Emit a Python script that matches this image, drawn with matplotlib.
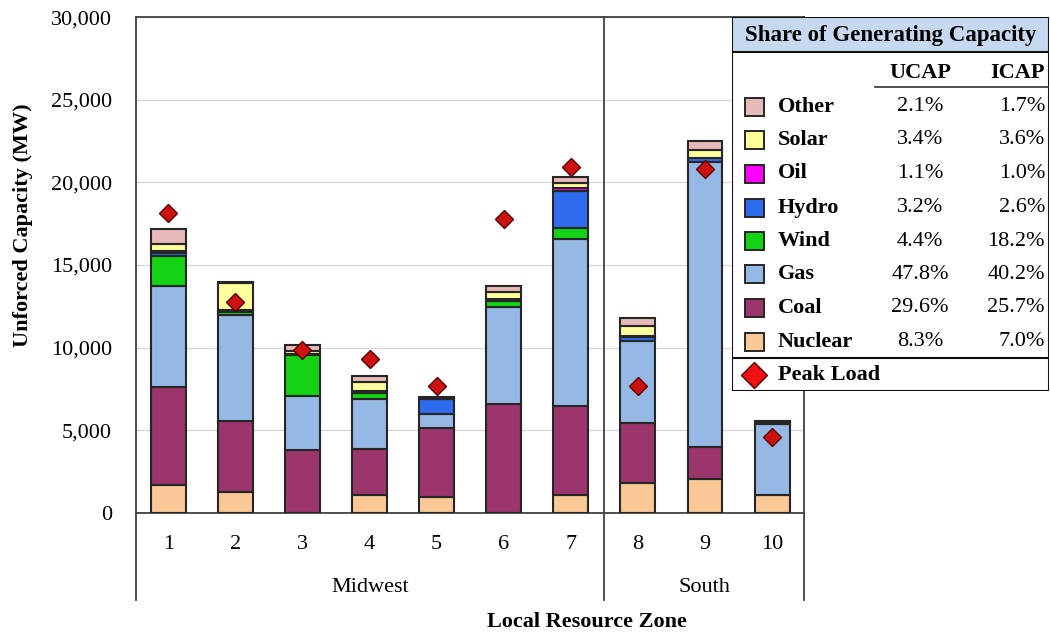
import matplotlib
matplotlib.use("Agg")
import matplotlib.pyplot as plt
from matplotlib.patches import Rectangle
from matplotlib.lines import Line2D
from matplotlib.transforms import blended_transform_factory
import numpy as np

plt.rcParams['font.family'] = ['Liberation Serif', 'DejaVu Serif']

# ---------------- data (MW) ----------------
zones = ['1', '2', '3', '4', '5', '6', '7', '8', '9', '10']
nuclear = [1650, 1250, 0, 1050, 950, 0, 1050, 1810, 2060, 1050]
coal = [5950, 4330, 3770, 2820, 4170, 6590, 5440, 3630, 1910, 0]
gas = [6150, 6400, 3290, 3030, 870, 5850, 10080, 4980, 17240, 4330]
wind = [1800, 150, 2500, 350, 0, 400, 650, 0, 0, 0]
hydro = [200, 100, 50, 100, 900, 100, 2270, 250, 250, 100]
oil = [100, 50, 0, 0, 0, 0, 150, 50, 0, 0]
solar = [450, 1600, 200, 550, 0, 400, 350, 600, 500, 0]
other = [900, 120, 330, 370, 100, 400, 310, 450, 560, 100]
peak_load = [18130, 12740, 9880, 9310, 7700, 17780, 20910, 7700, 20800, 4580]

regions = ['Midwest', 'South']
region_spans = [(1, 7), (8, 10)]

fuel_names = ['Nuclear', 'Coal', 'Gas', 'Wind', 'Hydro', 'Oil', 'Solar', 'Other']
fuel_colors = ['#fac796', '#9b356b', '#95b8e4', '#14d214', '#2f6bef', '#ff00ff', '#ffff9c', '#e7b9b9']
legend_order = ['Other', 'Solar', 'Oil', 'Hydro', 'Wind', 'Gas', 'Coal', 'Nuclear']
ucap_share = ['2.1%', '3.4%', '1.1%', '3.2%', '4.4%', '47.8%', '29.6%', '8.3%']
icap_share = ['1.7%', '3.6%', '1.0%', '2.6%', '18.2%', '40.2%', '25.7%', '7.0%']

title_text = 'Unforced Capacity by Fuel Type and LRZ, 2019'

# ---------------- figure ----------------
W, H = 1050, 635
fig = plt.figure(figsize=(W / 100, H / 100), dpi=100)

def fx(x):
    return x / W

def fy(y):
    return 1 - y / H

ax_l, ax_r, ax_t, ax_b = 135.7, 804.0, 17.3, 512.7
ax = fig.add_axes([fx(ax_l), fy(ax_b), (ax_r - ax_l) / W, (ax_b - ax_t) / H])

series = [nuclear, coal, gas, wind, hydro, oil, solar, other]
x = np.arange(1, len(zones) + 1)
bottom = np.zeros(len(zones))
edge = '#262626'
for vals, col in zip(series, fuel_colors):
    v = np.array(vals, dtype=float)
    mask = v > 0
    ax.bar(x[mask], v[mask], width=0.52, bottom=bottom[mask], color=col,
           edgecolor=edge, linewidth=1.5, zorder=3)
    bottom += v

ax.plot(x, peak_load, linestyle='none', marker='D', markersize=9,
        markerfacecolor='#cc1111', markeredgecolor='#5a0000', markeredgewidth=1.0,
        zorder=5)

ax.set_xlim(0.515, 10.475)
ax.set_ylim(0, 30000)
ax.set_yticks(np.arange(0, 30001, 5000))
ax.set_yticklabels([f'{v:,}' for v in range(0, 30001, 5000)], fontsize=16)
ax.set_xticks(x)
ax.set_xticklabels(zones, fontsize=16)
ax.tick_params(axis='y', length=0, pad=17)
ax.tick_params(axis='x', length=0, pad=16)
ax.grid(axis='y', color='#d9d9d9', linewidth=1.0, zorder=0)
ax.set_axisbelow(True)
for s in ['left', 'right']:
    ax.spines[s].set_visible(False)
ax.spines['top'].set_color('#404040')
ax.spines['bottom'].set_color('#404040')
ax.spines['top'].set_linewidth(1.3)
ax.spines['bottom'].set_linewidth(1.3)

# vertical boundary lines extended below the axis (multi-level category axis)
trans = blended_transform_factory(ax.transData, ax.transAxes)
ylow = -(600 - ax_b) / (ax_b - ax_t)
for xb in [0.515, 7.5, 10.475]:
    ax.add_line(Line2D([xb, xb], [ylow, 1], transform=trans, color='#404040',
                       linewidth=1.3, clip_on=False, zorder=6))
for name, (a, b) in zip(regions, region_spans):
    xc = ((a - 0.5 if a > 1 else 0.515) + (b + 0.5 if b < 10 else 10.475)) / 2
    ax.text(xc, -(588 - ax_b) / (ax_b - ax_t), name, transform=trans,
            ha='center', va='center', fontsize=16)

fig.text(fx(23), fy(225), 'Unforced Capacity (MW)', rotation=90, ha='center',
         va='center', fontsize=16, fontweight='bold')
fig.text(fx(587), fy(622), 'Local Resource Zone', ha='center', va='center',
         fontsize=16, fontweight='bold')

# title, cut off at the top edge as in the source image
fig.text(fx(395), fy(-6), title_text, ha='center', va='baseline', fontsize=16,
         fontweight='bold')

# ---------------- legend table ----------------
lx0, lx1, ly0, ly1 = 731.5, 1049.0, 17.0, 391.0
lax = fig.add_axes([fx(lx0), fy(ly1), (lx1 - lx0) / W, (ly1 - ly0) / H])
lax.set_xlim(lx0, lx1)
lax.set_ylim(ly1, ly0)
lax.axis('off')
lax.add_patch(Rectangle((lx0, ly0), lx1 - lx0, ly1 - ly0, facecolor='white',
                        edgecolor='#111111', linewidth=1.5, zorder=1))
lax.add_patch(Rectangle((lx0, ly0), lx1 - lx0, 35, facecolor='#c6d9f1',
                        edgecolor='#111111', linewidth=1.5, zorder=2))
lax.text((lx0 + lx1) / 2, 35, 'Share of Generating Capacity', ha='center',
         va='center', fontsize=16.5, fontweight='bold', zorder=3)
lax.text(920, 73, 'UCAP', ha='center', va='center', fontsize=16,
         fontweight='bold', zorder=3)
lax.text(1017, 73, 'ICAP', ha='center', va='center', fontsize=16,
         fontweight='bold', zorder=3)
lax.plot([875, lx1], [87.5, 87.5], color='#333333', linewidth=1.2, zorder=3)
row_y = [106.5, 140, 173.5, 207.5, 241, 274.5, 308, 342]
for name, yy, u, ic in zip(legend_order, row_y, ucap_share, icap_share):
    col = fuel_colors[fuel_names.index(name)]
    lax.add_patch(Rectangle((745, yy - 9), 19, 18, facecolor=col,
                            edgecolor='#262626', linewidth=1.4, zorder=3))
    lax.text(778, yy, name, ha='left', va='center', fontsize=16,
             fontweight='bold', zorder=3)
    lax.text(920, yy, u, ha='center', va='center', fontsize=16, zorder=3)
    lax.text(1045, yy, ic, ha='right', va='center', fontsize=16, zorder=3)
lax.plot([lx0, lx1], [358, 358], color='#111111', linewidth=1.5, zorder=3)
lax.plot([753.5], [375.5], linestyle='none', marker='D', markersize=13,
         markerfacecolor='#ee1111', markeredgecolor='#5a0000',
         markeredgewidth=1.0, zorder=4)
lax.text(778, 375.5, 'Peak Load', ha='left', va='center', fontsize=16,
         fontweight='bold', zorder=3)

fig.savefig('out.png', dpi=100)
